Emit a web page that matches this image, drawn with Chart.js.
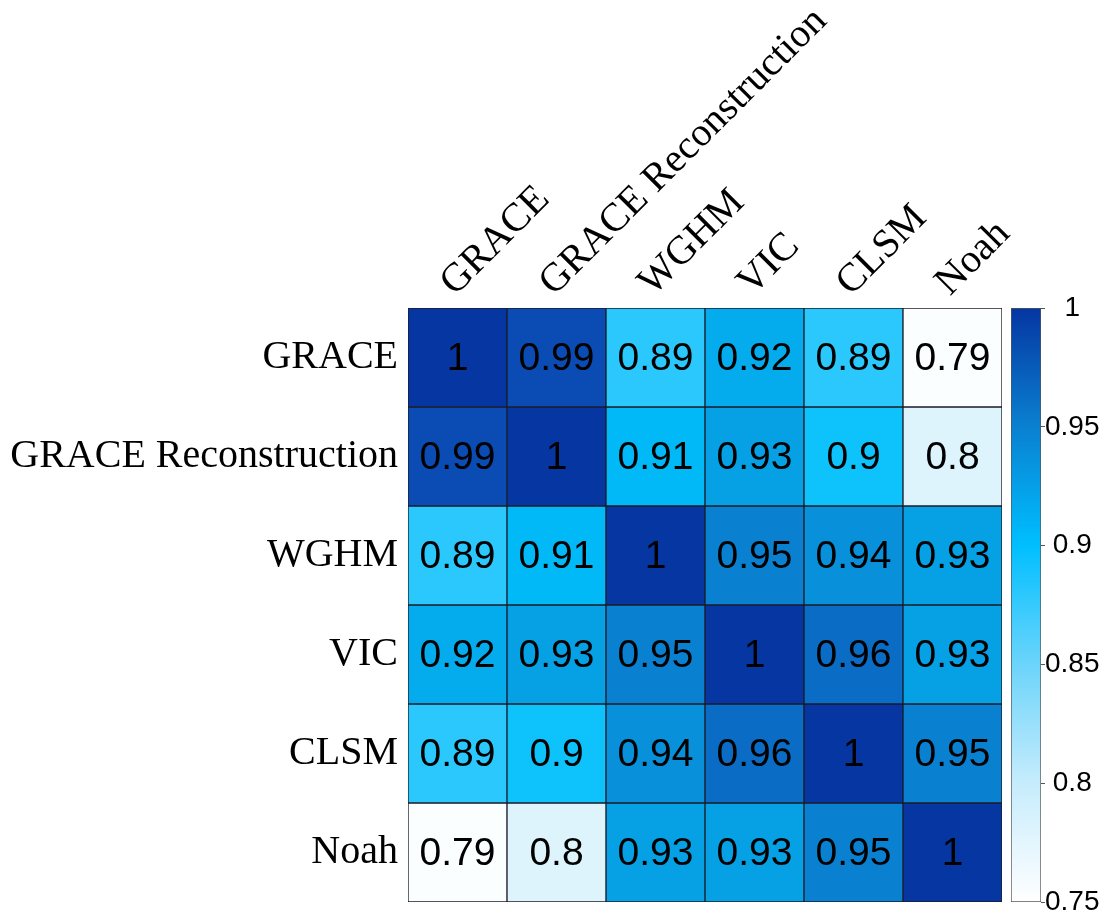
<!DOCTYPE html>
<html>
<head>
<meta charset="utf-8">
<title>Correlation heatmap</title>
<script src="https://cdn.jsdelivr.net/npm/chart.js@4.4.0/dist/chart.umd.min.js"></script>
<style>
  body { margin: 0; background: #fff; }
  #wrap { position: relative; width: 1105px; height: 915px; }
  #heat { position: absolute; left: 0; top: 0; }
  #bar { position: absolute; left: 1000px; top: 0; }
</style>
</head>
<body>
<div id="wrap">
  <canvas id="heat" width="1105" height="915"></canvas>
  <canvas id="bar" width="105" height="915"></canvas>
</div>
<script>
// model names (rows top to bottom, columns left to right)
var models = ['GRACE', 'GRACE Reconstruction', 'WGHM', 'VIC', 'CLSM', 'Noah'];

// correlation rows
var rowGRACE    = [1, 0.99, 0.89, 0.92, 0.89, 0.79];
var rowGRACERec = [0.99, 1, 0.91, 0.93, 0.9, 0.8];
var rowWGHM     = [0.89, 0.91, 1, 0.95, 0.94, 0.93];
var rowVIC      = [0.92, 0.93, 0.95, 1, 0.96, 0.93];
var rowCLSM     = [0.89, 0.9, 0.94, 0.96, 1, 0.95];
var rowNoah     = [0.79, 0.8, 0.93, 0.93, 0.95, 1];
var rows = [rowGRACE, rowGRACERec, rowWGHM, rowVIC, rowCLSM, rowNoah];

// colorbar tick labels
var colorbarTicks = [0.75, 0.8, 0.85, 0.9, 0.95, 1];

// colormap for the cells: white -> cyan -> dark blue
var cmapStops = [
  [0.75, '#ffffff'], [0.79, '#fbfeff'], [0.80, '#def4fd'], [0.85, '#72d7fb'],
  [0.89, '#2ac8fc'], [0.905, '#00bffa'], [0.93, '#06a0e4'], [0.95, '#0a80d0'],
  [0.96, '#0a6cc4'], [0.99, '#0a4cb3'], [1.0, '#0536a2']
];
// the colorbar strip fades more evenly from white
var barStops = [
  [0.75, '#ffffff'], [0.80, '#c6ecfc'], [0.85, '#6cd4fb'], [0.90, '#00bfff'],
  [0.95, '#0a80d0'], [1.0, '#0536a2']
];

function hexToRgb(h) {
  return [parseInt(h.substr(1, 2), 16), parseInt(h.substr(3, 2), 16), parseInt(h.substr(5, 2), 16)];
}

function cmap(v, stops) {
  stops = stops || cmapStops;
  if (v <= stops[0][0]) return stops[0][1];
  for (var i = 1; i < stops.length; i++) {
    if (v <= stops[i][0]) {
      var a = stops[i - 1], b = stops[i];
      var t = (v - a[0]) / (b[0] - a[0]);
      var ca = hexToRgb(a[1]), cb = hexToRgb(b[1]);
      var c = ca.map(function (x, k) { return Math.round(x + (cb[k] - x) * t); });
      return 'rgb(' + c.join(',') + ')';
    }
  }
  return stops[stops.length - 1][1];
}

var serif = '"Liberation Serif", "Times New Roman", serif';
var sans = '"Liberation Sans", Arial, sans-serif';

// writes the correlation value in the middle of every cell
var cellLabels = {
  id: 'cellLabels',
  afterDatasetsDraw: function (chart) {
    var ctx = chart.ctx;
    ctx.save();
    ctx.font = '39px ' + sans;
    ctx.fillStyle = '#000';
    ctx.textAlign = 'center';
    ctx.textBaseline = 'middle';
    chart.data.datasets.forEach(function (ds, i) {
      chart.getDatasetMeta(i).data.forEach(function (bar, j) {
        ctx.fillText(String(ds.corr[j]), bar.x, (bar.y + bar.base) / 2 + 2);
      });
    });
    ctx.restore();
  }
};

var heatChart = new Chart(document.getElementById('heat'), {
  type: 'bar',
  data: {
    labels: models,
    datasets: rows.map(function (vals, i) {
      return {
        label: models[i],
        data: vals.map(function () { return 1; }),
        corr: vals,
        backgroundColor: vals.map(function (v) { return cmap(v); }),
        borderColor: '#1c1c28',
        borderWidth: 1,
        borderSkipped: false,
        barPercentage: 1,
        categoryPercentage: 1
      };
    })
  },
  options: {
    responsive: false,
    animation: false,
    layout: { padding: { top: 0, left: 0, right: 103, bottom: 13 } },
    plugins: { legend: { display: false }, tooltip: { enabled: false } },
    scales: {
      x: {
        position: 'top',
        stacked: true,
        grid: { display: false, drawTicks: false },
        border: { display: false },
        ticks: {
          font: { family: serif, size: 40 },
          color: '#000',
          minRotation: 45,
          maxRotation: 45,
          autoSkip: false,
          padding: 2,
          labelOffset: 24
        },
        afterFit: function (s) { s.height = 308; s.paddingLeft = 0; s.paddingRight = 0; }
      },
      y: { display: false, stacked: true, min: 0, max: 6, reverse: true },
      rows: {
        type: 'category',
        labels: models,
        position: 'left',
        offset: true,
        grid: { display: false, drawTicks: false },
        border: { display: false },
        ticks: { font: { family: serif, size: 40 }, color: '#000', padding: 10 },
        afterFit: function (s) { s.width = 408; s.paddingTop = 0; s.paddingBottom = 0; }
      }
    }
  },
  plugins: [cellLabels]
});

// colorbar
var lo = colorbarTicks[0], hi = colorbarTicks[colorbarTicks.length - 1];
var barChart = new Chart(document.getElementById('bar'), {
  type: 'bar',
  data: {
    labels: [''],
    datasets: [{
      data: [[lo, hi]],
      backgroundColor: function (c) {
        var chart = c.chart;
        var area = chart.chartArea;
        if (!area || !isFinite(area.top) || !isFinite(area.bottom)) return '#fff';
        var g = chart.ctx.createLinearGradient(0, area.bottom, 0, area.top);
        for (var k = 0; k <= 50; k++) {
          var v = lo + (hi - lo) * k / 50;
          g.addColorStop(k / 50, cmap(v, barStops));
        }
        return g;
      },
      borderColor: '#555',
      borderWidth: 1,
      borderSkipped: false,
      barPercentage: 1,
      categoryPercentage: 1
    }]
  },
  options: {
    responsive: false,
    animation: false,
    layout: { padding: { top: 308, bottom: 13, left: 11, right: 0 } },
    plugins: { legend: { display: false }, tooltip: { enabled: false } },
    scales: {
      x: { display: false },
      y: {
        position: 'right',
        min: lo,
        max: hi,
        afterBuildTicks: function (s) { s.ticks = colorbarTicks.map(function (v) { return { value: v }; }); },
        ticks: {
          font: { family: sans, size: 28 },
          color: '#000',
          crossAlign: 'center',
          padding: 0,
          callback: function (v) { return String(v); }
        },
        grid: { drawOnChartArea: false, tickLength: 4, color: '#555' },
        border: { display: false },
        afterFit: function (s) { s.width = 64; s.paddingTop = 0; s.paddingBottom = 0; }
      }
    }
  }
});
</script>
</body>
</html>
